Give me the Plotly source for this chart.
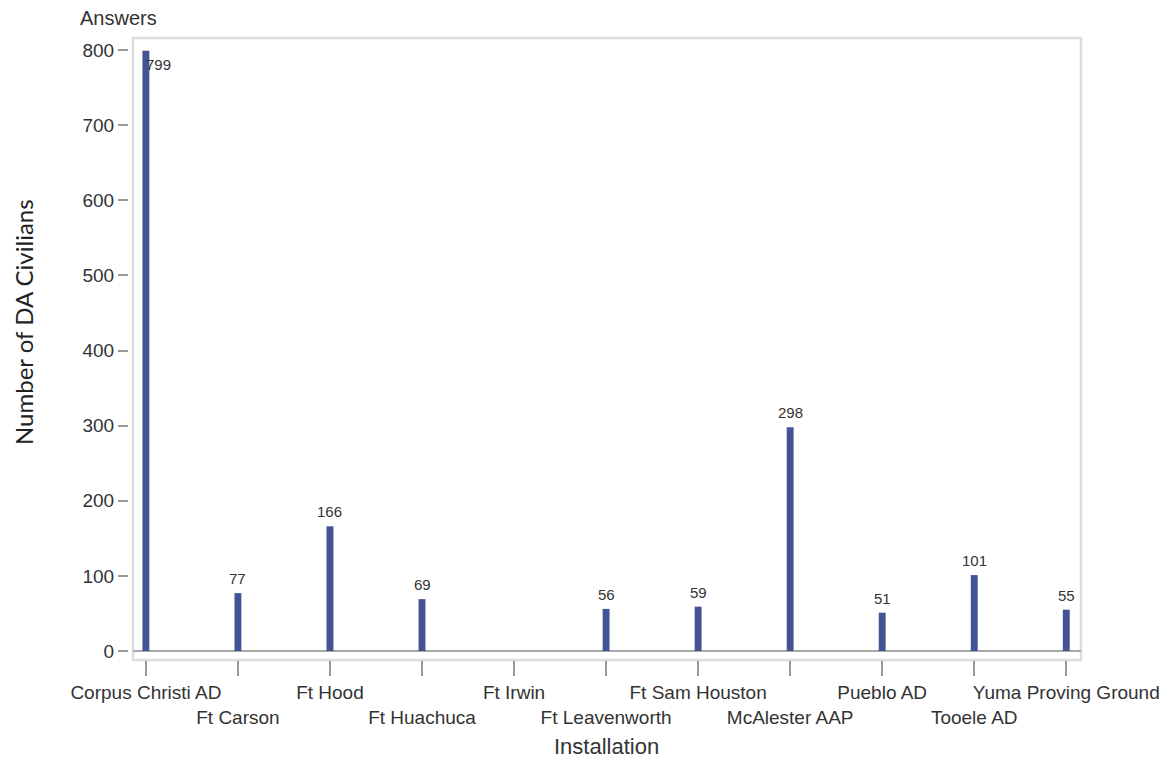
import plotly.graph_objects as go

installations = ["Corpus Christi AD", "Ft Carson", "Ft Hood", "Ft Huachuca", "Ft Irwin",
                 "Ft Leavenworth", "Ft Sam Houston", "McAlester AAP", "Pueblo AD",
                 "Tooele AD", "Yuma Proving Ground"]
civilians = [799, 77, 166, 69, None, 56, 59, 298, 51, 101, 55]
y_ticks = [0, 100, 200, 300, 400, 500, 600, 700, 800]

# page body has an 8px margin: work in figure coords = screen coords - 8
O = 8
W, H = 1172 - O, 763 - O
ML, MT = 128 - O, 38 - O
MR = W - (1081 - O)
MB = H - (660 - O)
pw = W - ML - MR
ph = H - MT - MB
gap = 5

xs = list(range(len(installations)))
ticktext = [n if i % 2 == 0 else "<br>" + n for i, n in enumerate(installations)]

fig = go.Figure()
fig.add_trace(go.Bar(
    x=xs, y=civilians, width=0.075,
    marker=dict(color="#435395", line=dict(width=0)),
    hoverinfo="x+y",
))

ann = []
for i, v in enumerate(civilians):
    if v is None:
        continue
    if v > 780:
        ann.append(dict(x=i, y=v, xref="x", yref="y", text=str(v), showarrow=False,
                        xanchor="center", yanchor="top", xshift=13, yshift=-3,
                        font=dict(size=15, color="#333", family="Liberation Sans, Arial")))
    else:
        ann.append(dict(x=i, y=v, xref="x", yref="y", text=str(v), showarrow=False,
                        xanchor="center", yanchor="bottom", yshift=4,
                        font=dict(size=15, color="#333", family="Liberation Sans, Arial")))

ann.append(dict(text="Number of DA Civilians", textangle=-90, showarrow=False,
                xref="paper", yref="paper", x=(23 - 128) / pw, y=(660 - 322) / ph,
                xanchor="center", yanchor="middle",
                font=dict(size=24, color="#222", family="Lato, Liberation Sans")))
ann.append(dict(text="Installation", showarrow=False,
                xref="paper", yref="paper", x=(606 - 128) / pw, y=(660 - 746) / ph,
                xanchor="center", yanchor="middle",
                font=dict(size=22, color="#333", family="Liberation Sans, Arial")))
ann.append(dict(text="Answers", showarrow=False,
                xref="paper", yref="paper", x=(78 - 128) / pw, y=(660 - 5) / ph,
                xanchor="left", yanchor="top",
                font=dict(size=20, color="#333", family="Liberation Sans, Arial")))

fig.update_layout(
    width=W, height=H,
    margin=dict(l=ML, r=MR, t=MT, b=MB, autoexpand=False),
    plot_bgcolor="white", paper_bgcolor="white",
    showlegend=False,
    annotations=ann,
    xaxis=dict(
        domain=[gap / pw, 1],
        range=[-0.14, 10.16],
        tickmode="array", tickvals=xs, ticktext=ticktext, tickangle=0,
        automargin=False,
        ticks="outside", ticklen=15, tickcolor="#999", tickwidth=1.5,
        tickfont=dict(size=19, color="#333", family="Liberation Sans, Arial"),
        showgrid=False, zeroline=False, showline=False,
    ),
    yaxis=dict(
        anchor="free", position=0,
        range=[-12, 816],
        automargin=False,
        tickmode="array", tickvals=y_ticks,
        ticks="outside", ticklen=10, tickcolor="#999", tickwidth=1.5,
        tickfont=dict(size=19, color="#333", family="Liberation Sans, Arial"),
        showgrid=False, zeroline=False, showline=False,
    ),
    shapes=[
        dict(type="rect", xref="x domain", yref="y domain", x0=0, x1=1, y0=0, y1=1,
             line=dict(color="#dcdcdc", width=2.5), layer="below"),
        dict(type="line", xref="x domain", yref="y", x0=0, x1=1, y0=0, y1=0,
             line=dict(color="#a8a8a8", width=2), layer="below"),
    ],
)

fig.write_html("out.html")
